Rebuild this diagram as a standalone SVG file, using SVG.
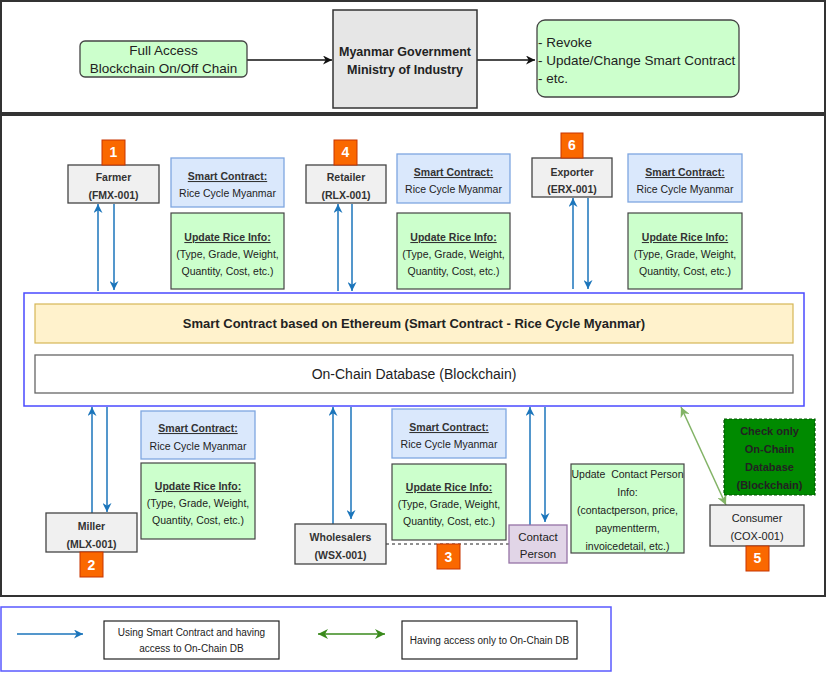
<svg xmlns="http://www.w3.org/2000/svg" width="827" height="673" viewBox="0 0 827 673">
<style>
text{font-family:"Liberation Sans",Arial,sans-serif;fill:#222;text-anchor:middle}
text.l{text-anchor:start}
.frame{fill:none;stroke:#333;stroke-width:2}
.node{fill:#f0f0f0;stroke:#444;stroke-width:1.3}
.sc{fill:#dae8fc;stroke:#7ea6e0;stroke-width:1.3}
.upd{fill:#ccffcc;stroke:#444;stroke-width:1.2}
.badge{fill:#fa6800;stroke:#c73500;stroke-width:1}
.bt{fill:#fff;font-weight:bold;font-size:14px}
.nt{font-size:10.5px;font-weight:bold;fill:#333}
.st{font-size:10.5px}
.hd{font-size:10.5px;font-weight:bold;text-decoration:underline;fill:#333}
.blue{stroke:#1b75bb;stroke-width:1.5;fill:none;marker-end:url(#ab)}
.lt{font-size:10px}
</style>
<defs>
<marker id="ab" viewBox="0 0 10 10" refX="10" refY="5" markerWidth="9" markerHeight="9" markerUnits="userSpaceOnUse" orient="auto"><path d="M0,0 L10,5 L0,10 L3,5 z" fill="#1b75bb"/></marker>
<marker id="ak" viewBox="0 0 10 10" refX="10" refY="5" markerWidth="9" markerHeight="9" markerUnits="userSpaceOnUse" orient="auto"><path d="M0,0 L10,5 L0,10 L3,5 z" fill="#111"/></marker>
<marker id="ag" viewBox="0 0 10 10" refX="10" refY="5" markerWidth="10" markerHeight="10" markerUnits="userSpaceOnUse" orient="auto-start-reverse"><path d="M0,0 L10,5 L0,10 L3,5 z" fill="#82b366"/></marker>
<marker id="ag2" viewBox="0 0 10 10" refX="10" refY="5" markerWidth="10" markerHeight="10" markerUnits="userSpaceOnUse" orient="auto-start-reverse"><path d="M0,0 L10,5 L0,10 L3,5 z" fill="#3a8a1c"/></marker>
</defs>
<rect width="827" height="673" fill="#fff"/>
<rect class="frame" x="1" y="1" width="824" height="112"/>
<rect class="frame" x="1" y="115" width="824" height="481"/>

<g id="connectors">
<path d="M247 60 H332" stroke="#111" stroke-width="1.5" fill="none" marker-end="url(#ak)"/>
<path d="M477 60 H535" stroke="#111" stroke-width="1.5" fill="none" marker-end="url(#ak)"/>
<path class="blue" d="M98 291 V204"/>
<path class="blue" d="M114 204 V290"/>
<path class="blue" d="M338 291 V204"/>
<path class="blue" d="M352 204 V291"/>
<path class="blue" d="M573 289 V198"/>
<path class="blue" d="M588 198 V289"/>
<path class="blue" d="M92 513 V407"/>
<path class="blue" d="M107 407 V512"/>
<path class="blue" d="M333 524 V407"/>
<path class="blue" d="M351 407 V519"/>
<path class="blue" d="M530 525 V407"/>
<path class="blue" d="M545 407 V522"/>
<path d="M681 407 L726 505" stroke="#82b366" stroke-width="1.5" fill="none" marker-start="url(#ag)" marker-end="url(#ag)"/>
<path d="M386 544 H509" stroke="#222" stroke-width="1" stroke-dasharray="3 3" fill="none"/>
</g>

<g id="full-access"><rect x="80" y="41" width="167" height="36" rx="5" fill="#ccffcc" stroke="#444" stroke-width="1.3"/>
<text x="163.5" y="55" font-size="13.5">Full Access</text><text x="163.5" y="73" font-size="13.5">Blockchain On/Off Chain</text></g>
<g id="government"><rect x="333" y="10" width="144" height="98" fill="#e6e6e6" stroke="#333" stroke-width="1.5"/>
<text x="405" y="56" font-size="12.5" font-weight="bold">Myanmar Government</text><text x="405" y="74" font-size="12.5" font-weight="bold">Ministry of Industry</text></g>
<g id="actions"><rect x="537" y="20" width="202" height="77" rx="8" fill="#ccffcc" stroke="#444" stroke-width="1.3"/>
<text class="l" x="538" y="47" font-size="13.5">- Revoke</text>
<text class="l" x="538" y="65" font-size="13.5">- Update/Change Smart Contract</text>
<text class="l" x="538" y="83" font-size="13.5">- etc.</text></g>

<g id="blockchain"><rect x="24" y="293" width="780" height="113" fill="#fff" stroke="#4a4aff" stroke-width="1.5"/>
<rect x="35" y="304" width="758" height="39" fill="#fff2cc" stroke="#d6b656" stroke-width="1.2"/>
<text x="414" y="328" font-size="13" font-weight="bold">Smart Contract based on Ethereum (Smart Contract - Rice Cycle Myanmar)</text>
<rect x="35" y="355" width="758" height="38" fill="#fff" stroke="#666" stroke-width="1.3"/>
<text x="414" y="379" font-size="14" fill="#333">On-Chain Database (Blockchain)</text></g>

<g id="farmer"><rect class="node" x="68" y="165" width="91" height="38"/>
<text class="nt" x="113.5" y="181">Farmer</text><text class="nt" x="113.5" y="199">(FMX-001)</text>
<rect class="badge" x="102" y="140" width="23" height="25"/><text class="bt" x="113.5" y="157">1</text></g>
<g id="sc1"><rect class="sc" x="171" y="158" width="113" height="49"/><text class="hd" x="227.5" y="180">Smart Contract:</text><text class="st" x="227.5" y="197">Rice Cycle Myanmar</text></g>
<g id="upd1"><rect class="upd" x="171" y="213" width="113" height="76"/><text class="hd" x="227.5" y="241">Update Rice Info:</text><text class="st" x="227.5" y="258">(Type, Grade, Weight,</text><text class="st" x="227.5" y="275">Quantity, Cost, etc.)</text></g>

<g id="retailer"><rect class="node" x="306" y="165" width="80" height="38"/>
<text class="nt" x="346" y="181">Retailer</text><text class="nt" x="346" y="199">(RLX-001)</text>
<rect class="badge" x="334" y="140" width="23" height="25"/><text class="bt" x="345.5" y="157">4</text></g>
<g id="sc2"><rect class="sc" x="397" y="154" width="113" height="49"/><text class="hd" x="453.5" y="176">Smart Contract:</text><text class="st" x="453.5" y="193">Rice Cycle Myanmar</text></g>
<g id="upd2"><rect class="upd" x="397" y="213" width="113" height="76"/><text class="hd" x="453.5" y="241">Update Rice Info:</text><text class="st" x="453.5" y="258">(Type, Grade, Weight,</text><text class="st" x="453.5" y="275">Quantity, Cost, etc.)</text></g>

<g id="exporter"><rect class="node" x="532" y="158" width="80" height="39"/>
<text class="nt" x="572" y="176">Exporter</text><text class="nt" x="572" y="193">(ERX-001)</text>
<rect class="badge" x="561" y="133" width="22" height="25"/><text class="bt" x="572" y="150">6</text></g>
<g id="sc3"><rect class="sc" x="628" y="154" width="114" height="48"/><text class="hd" x="685" y="176">Smart Contract:</text><text class="st" x="685" y="193">Rice Cycle Myanmar</text></g>
<g id="upd3"><rect class="upd" x="628" y="213" width="114" height="76"/><text class="hd" x="685" y="241">Update Rice Info:</text><text class="st" x="685" y="258">(Type, Grade, Weight,</text><text class="st" x="685" y="275">Quantity, Cost, etc.)</text></g>

<g id="miller"><rect class="node" x="46" y="513" width="91" height="39"/>
<text class="nt" x="91.5" y="530">Miller</text><text class="nt" x="91.5" y="548">(MLX-001)</text>
<rect class="badge" x="80" y="552" width="23" height="25"/><text class="bt" x="91.5" y="570">2</text></g>
<g id="sc4"><rect class="sc" x="141" y="411" width="114" height="48"/><text class="hd" x="198" y="432">Smart Contract:</text><text class="st" x="198" y="450">Rice Cycle Myanmar</text></g>
<g id="upd4"><rect class="upd" x="141" y="463" width="114" height="76"/><text class="hd" x="198" y="490">Update Rice Info:</text><text class="st" x="198" y="507">(Type, Grade, Weight,</text><text class="st" x="198" y="524">Quantity, Cost, etc.)</text></g>

<g id="wholesalers"><rect class="node" x="295" y="524" width="91" height="40"/>
<text class="nt" x="340.5" y="541">Wholesalers</text><text class="nt" x="340.5" y="559">(WSX-001)</text></g>
<g id="sc5"><rect class="sc" x="392" y="409" width="114" height="49"/><text class="hd" x="449" y="431">Smart Contract:</text><text class="st" x="449" y="448">Rice Cycle Myanmar</text></g>
<g id="upd5"><rect class="upd" x="392" y="464" width="114" height="76"/><text class="hd" x="449" y="491">Update Rice Info:</text><text class="st" x="449" y="508">(Type, Grade, Weight,</text><text class="st" x="449" y="525">Quantity, Cost, etc.)</text></g>
<g id="badge3"><rect class="badge" x="437" y="544" width="23" height="25"/><text class="bt" x="448.5" y="562">3</text></g>
<g id="contact"><rect x="509" y="525" width="58" height="38" fill="#e1d5e7" stroke="#9673a6" stroke-width="1.3"/>
<text x="538" y="541" font-size="11.5">Contact</text><text x="538" y="558" font-size="11.5">Person</text></g>
<g id="upd-contact"><rect class="upd" x="571" y="464" width="113" height="89"/>
<text class="st" x="627.5" y="478" xml:space="preserve">Update  Contact Person</text><text class="st" x="627.5" y="496">Info:</text><text class="st" x="627.5" y="514">(contactperson, price,</text><text class="st" x="627.5" y="532">paymentterm,</text><text class="st" x="627.5" y="550">invoicedetail, etc.)</text></g>
<g id="check"><rect x="724" y="419" width="91" height="76" fill="#008a00" stroke="#005700" stroke-width="1.2" stroke-dasharray="3 2"/>
<text x="769.5" y="435" font-size="11" font-weight="bold" fill="#fff">Check only</text><text x="769.5" y="453" font-size="11" font-weight="bold" fill="#fff">On-Chain</text><text x="769.5" y="471" font-size="11" font-weight="bold" fill="#fff">Database</text><text x="769.5" y="489" font-size="11" font-weight="bold" fill="#fff">(Blockchain)</text></g>
<g id="consumer"><rect class="node" x="710" y="505" width="94" height="41"/>
<text x="757" y="522" font-size="11">Consumer</text><text x="757" y="540" font-size="11">(COX-001)</text>
<rect class="badge" x="746" y="546" width="23" height="25"/><text class="bt" x="757.5" y="563">5</text></g>

<g id="legend"><rect x="1" y="607" width="610" height="64" fill="#fff" stroke="#5a5aff" stroke-width="1.5"/>
<path d="M17 634 H83" stroke="#1b75bb" stroke-width="1.5" fill="none" marker-end="url(#ab)"/>
<rect x="104" y="621" width="175" height="38" fill="#fff" stroke="#222" stroke-width="1.2"/>
<text class="lt" x="191.5" y="636">Using Smart Contract and having</text><text class="lt" x="191.5" y="652">access to On-Chain DB</text>
<path d="M318 634 H385" stroke="#3a8a1c" stroke-width="1.5" fill="none" marker-start="url(#ag2)" marker-end="url(#ag2)"/>
<rect x="402" y="621" width="175" height="38" fill="#fff" stroke="#222" stroke-width="1.2"/>
<text class="lt" x="489.5" y="644">Having access only to On-Chain DB</text></g>
</svg>
